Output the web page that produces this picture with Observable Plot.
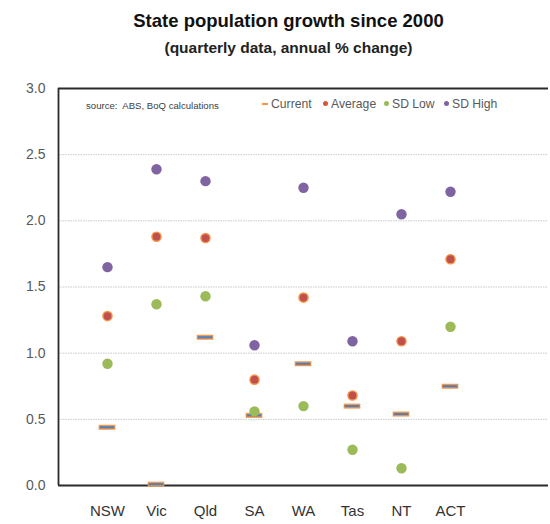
<!DOCTYPE html>
<html>
<head>
<meta charset="utf-8">
<script src="https://cdn.jsdelivr.net/npm/d3@7"></script>
<script src="https://cdn.jsdelivr.net/npm/@observablehq/plot@0.6"></script>
<style>
  body { margin: 0; background: #fff; font-family: "Liberation Sans", Arial, sans-serif; }
  #wrap { position: relative; width: 550px; height: 524px; overflow: hidden; }
  .title { position: absolute; left: 0; width: 577px; text-align: center; font-weight: bold; color: #111; }
  #t1 { top: 9px; font-size: 18.5px; line-height: 24px; }
  #t2 { top: 37px; font-size: 15.5px; line-height: 22px; color: #222; }
  #chart { position: absolute; left: 0; top: 64px; }
  .src { position: absolute; left: 86px; top: 100px; font-size: 9.6px; color: #404040; line-height: 12px; }
  .leg { position: absolute; top: 97px; font-size: 12.2px; color: #595959; line-height: 15px; white-space: nowrap; }
  .sw { display: inline-block; vertical-align: middle; margin-right: 3px; position: relative; top: -1px; }
  .dash { width: 6px; height: 2px; background: #F79646; }
  .dot { width: 5px; height: 5px; border-radius: 50%; }
</style>
</head>
<body>
<div id="wrap">
  <div class="title" id="t1">State population growth since 2000</div>
  <div class="title" id="t2">(quarterly data, annual % change)</div>
  <div id="chart"></div>
  <div class="src">source:&nbsp; ABS, BoQ calculations</div>
  <div class="leg" style="left:262px"><span class="sw dash"></span>Current</div>
  <div class="leg" style="left:323px"><span class="sw dot" style="background:#D9543A"></span>Average</div>
  <div class="leg" style="left:384px"><span class="sw dot" style="background:#9BBB59"></span>SD Low</div>
  <div class="leg" style="left:444px"><span class="sw dot" style="background:#8064A2"></span>SD High</div>
</div>
<script>
// States and their annual population growth statistics (%)
const categories = ["NSW", "Vic", "Qld", "SA", "WA", "Tas", "NT", "ACT"];
const current = [0.44, 0.01, 1.12, 0.53, 0.92, 0.60, 0.54, 0.75];
const average = [1.28, 1.88, 1.87, 0.80, 1.42, 0.68, 1.09, 1.71];
const sdLow   = [0.92, 1.37, 1.43, 0.56, 0.60, 0.27, 0.13, 1.20];
const sdHigh  = [1.65, 2.39, 2.30, 1.06, 2.25, 1.09, 2.05, 2.22];
const yTicks  = [0, 0.5, 1.0, 1.5, 2.0, 2.5, 3.0];

// States sit at positions 1..8 on a 0..10 slot axis
const rows = categories.map((state, i) => ({
  state, pos: i + 1,
  current: current[i], average: average[i], low: sdLow[i], high: sdHigh[i]
}));

const dark = "#2b2b2b";
const chart = Plot.plot({
  width: 550,
  height: 460,
  marginLeft: 58,
  marginRight: 2,
  marginTop: 24,
  marginBottom: 39,
  style: { fontFamily: "'Liberation Sans', Arial, sans-serif", background: "transparent" },
  x: { domain: [0, 10] },
  y: { domain: [0, 3] },
  marks: [
    Plot.ruleY(yTicks.filter(v => v > 0 && v < 3), { stroke: "#C8C8C8", strokeWidth: 1, strokeDasharray: "1.5,1" }),
    Plot.ruleY([0, 3], { stroke: dark, strokeWidth: 1.8 }),
    Plot.ruleX([0], { stroke: dark, strokeWidth: 1.8 }),
    Plot.axisY({
      ticks: yTicks, tickFormat: d3.format(".1f"), tickSize: 0, tickPadding: 13,
      fontSize: 14, color: "#595959", label: null
    }),
    Plot.axisX({
      ticks: rows.map(d => d.pos), tickFormat: p => categories[p - 1], tickSize: 0, tickPadding: 20,
      fontSize: 15, color: "#333", label: null
    }),
    // Current: short orange-edged blue bar
    Plot.ruleY(rows, { y: "current", x1: d => d.pos - 0.17, x2: d => d.pos + 0.17, stroke: "#F79646", strokeWidth: 5 }),
    Plot.ruleY(rows, { y: "current", x1: d => d.pos - 0.15, x2: d => d.pos + 0.15, stroke: "#4F81BD", strokeWidth: 2.2 }),
    Plot.dot(rows, { x: "pos", y: "average", r: 4.6, fill: "#C0504D", stroke: "#F79646", strokeWidth: 1.4 }),
    Plot.dot(rows, { x: "pos", y: "low", r: 5.2, fill: "#9BBB59" }),
    Plot.dot(rows, { x: "pos", y: "high", r: 5.2, fill: "#8064A2" })
  ]
});
document.getElementById("chart").appendChild(chart);
</script>
</body>
</html>
